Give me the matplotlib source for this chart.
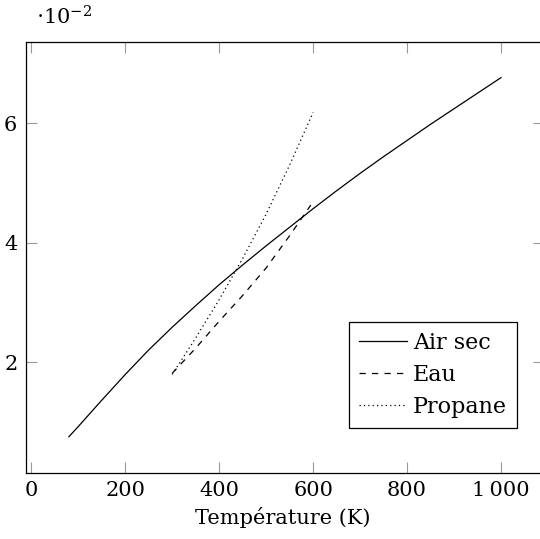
import matplotlib
matplotlib.use("Agg")
import matplotlib.pyplot as plt

plt.rcParams["font.family"] = ["DejaVu Serif"]
plt.rcParams["mathtext.fontset"] = "dejavuserif"

# conductivite thermique (x 1e-2)
T_air = [80, 100, 150, 200, 250, 300, 350, 400, 450, 500, 550, 600, 650, 700, 750, 800, 850, 900, 950, 1000]
k_air = [0.76, 0.93, 1.37, 1.80, 2.21, 2.59, 2.95, 3.30, 3.63, 3.95, 4.26, 4.57, 4.87, 5.16, 5.44, 5.71, 5.98, 6.24, 6.50, 6.76]

T_eau = [300, 350, 400, 450, 500, 550, 595]
k_eau = [1.82, 2.24, 2.69, 3.12, 3.58, 4.12, 4.63]

T_prop = [300, 350, 400, 450, 500, 550, 600]
k_prop = [1.80, 2.41, 3.05, 3.74, 4.48, 5.30, 6.18]

xticks = [0, 200, 400, 600, 800, 1000]
xticklabels = ["0", "200", "400", "600", "800", "1\u2009000"]
yticks = [2, 4, 6]

W, H = 540, 539
fig = plt.figure(figsize=(W / 100, H / 100), dpi=100)
ax = fig.add_axes([25.7 / W, (H - 472.6) / H, 514.3 / W, 430.9 / H])

ax.plot(T_air, k_air, color="black", lw=0.9, label="Air sec")
ax.plot(T_eau, k_eau, color="black", lw=0.9, linestyle=(0, (5, 5)), label="Eau")
ax.plot(T_prop, k_prop, color="black", lw=0.9, linestyle=(0, (1, 2.5)), label="Propane")

ax.set_xlim(-12, 1083)
ax.set_ylim(0.16, 7.36)
ax.set_xticks(xticks)
ax.set_xticklabels(xticklabels)
ax.set_yticks(yticks)
ax.tick_params(direction="in", length=8, width=0.8, color="#999999",
               top=True, labelsize=15, pad=6)
for s in ax.spines.values():
    s.set_linewidth(0.9)
ax.spines["right"].set_visible(False)

# petits traits a droite (le cadre est coupe)
ax_r = ax.twinx()
ax_r.set_ylim(ax.get_ylim())
ax_r.set_yticks(yticks)
ax_r.set_yticklabels([])
ax_r.tick_params(direction="in", length=5, width=0.8, color="#999999")
for s in ax_r.spines.values():
    s.set_visible(False)

ax.set_xlabel("Température (K)", fontsize=15, labelpad=5)

leg = ax.legend(loc="lower right", bbox_to_anchor=((517 - 25.7) / 514.3, 0.1035), fontsize=16,
                fancybox=False, framealpha=1, edgecolor="black",
                handlelength=2.2, handletextpad=0.25, borderpad=0.45,
                labelspacing=0.45, borderaxespad=0)
leg.get_frame().set_linewidth(0.9)

fig.text(36 / W, 1 - 17 / H, r"$\cdot10^{-2}$", fontsize=15, va="center", ha="left")

fig.savefig("out.png", dpi=100)
